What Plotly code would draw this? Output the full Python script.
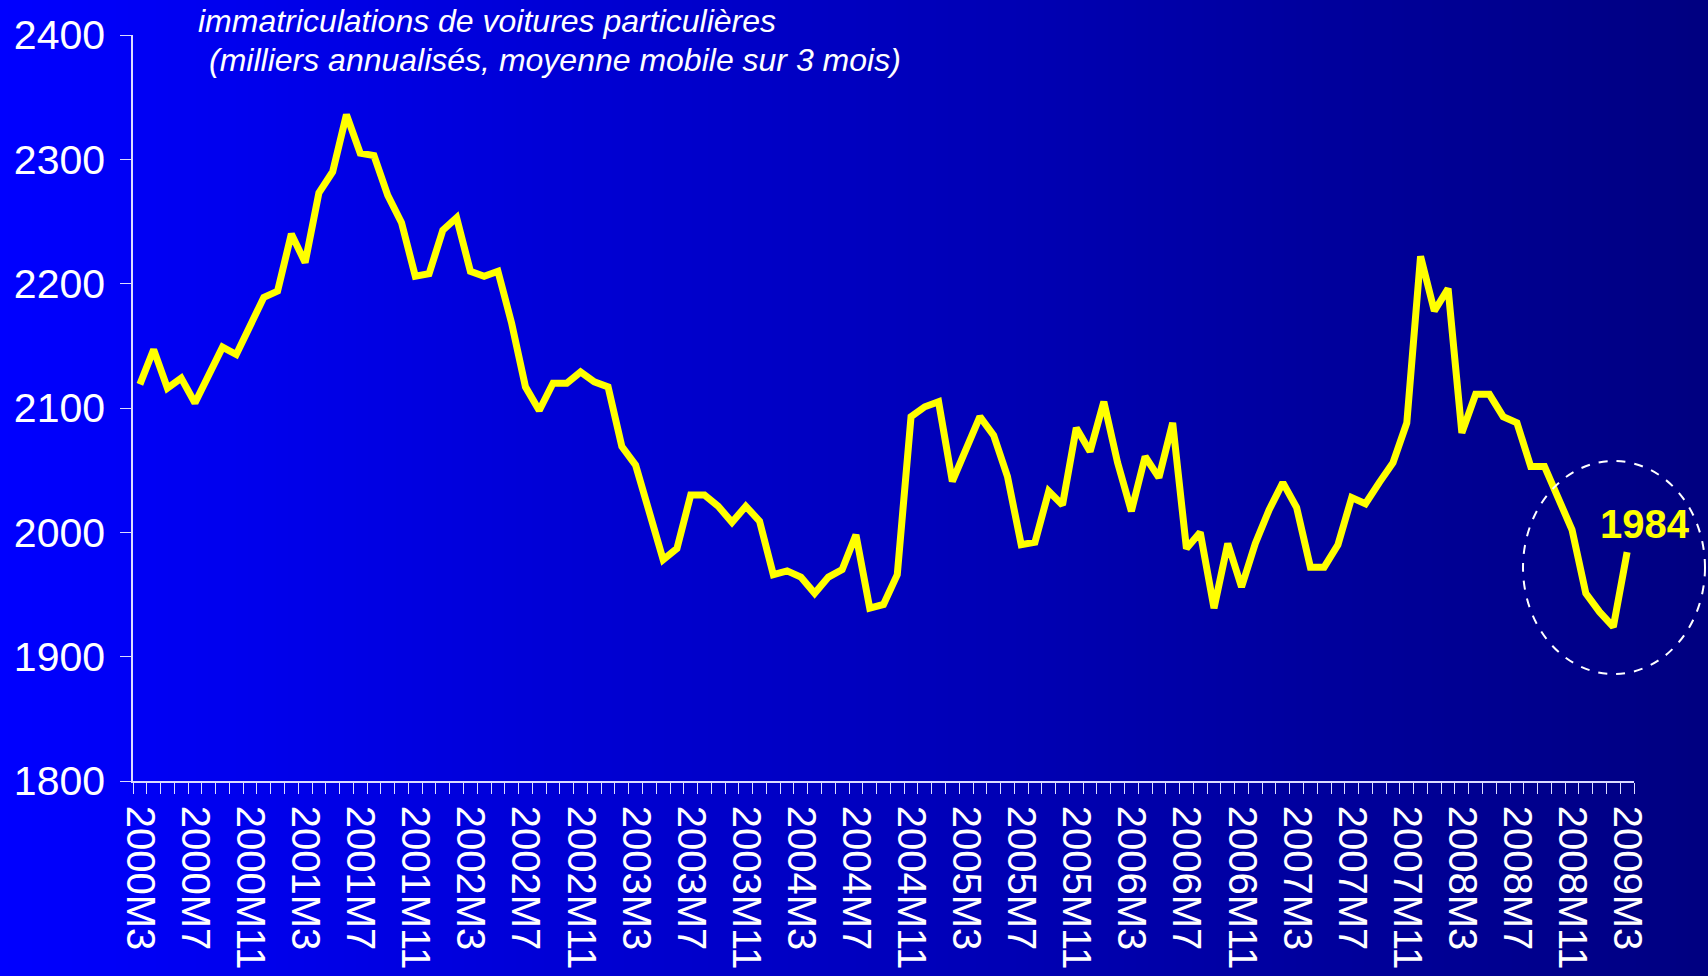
import plotly.graph_objects as go

# ---- data ----
start_year, start_month = 2000, 3
end_year, end_month = 2009, 3
months = [f"{y}M{m}" for y in range(start_year, end_year + 1) for m in range(1, 13)
          if (y, m) >= (start_year, start_month) and (y, m) <= (end_year, end_month)]

immatriculations = [
    2119, 2147, 2116, 2124, 2104, 2127, 2149, 2143, 2167, 2189,
    2194, 2240, 2217, 2273, 2290, 2336, 2305, 2303, 2271, 2249,
    2206, 2208, 2243, 2253, 2210, 2206, 2210, 2168, 2117, 2098,
    2120, 2120, 2129, 2121, 2117, 2069, 2054, 2015, 1978, 1987,
    2030, 2030, 2021, 2008, 2021, 2009, 1966, 1969, 1964, 1951,
    1964, 1970, 1998, 1939, 1942, 1966, 2093, 2101, 2105, 2041,
    2068, 2093, 2078, 2045, 1990, 1992, 2033, 2022, 2084, 2065,
    2105, 2056, 2017, 2061, 2044, 2088, 1987, 2000, 1939, 1991,
    1956, 1991, 2018, 2040, 2020, 1972, 1972, 1990, 2028, 2023,
    2040, 2056, 2088, 2222, 2178, 2196, 2080, 2111, 2111, 2093,
    2088, 2053, 2053, 2026, 2002, 1951, 1936, 1924, 1984,
]
tick_labels = [m if i % 4 == 0 else "" for i, m in enumerate(months)]
y_ticks = [1800, 1900, 2000, 2100, 2200, 2300, 2400]
title_line1 = "immatriculations de voitures particulières"
title_line2 = "(milliers annualisés, moyenne mobile sur 3 mois)"
last_label = "1984"

# ---- layout geometry (pixels) ----
W, H = 1708, 976
L, R, T, B = 133, 74, 35, 195
pw, ph = W - L - R, H - T - B


def px_x(x):
    return (x - L) / pw


def px_y(y):
    return (H - B - y) / ph


FONT = "Liberation Sans, Arial, sans-serif"
AXIS_COL = "#DCDCFF"

fig = go.Figure()
fig.add_trace(go.Scatter(
    x=months, y=immatriculations, mode="lines",
    line=dict(color="#FFFF00", width=7),
    hoverinfo="x+y", showlegend=False,
))

# horizontal gradient background (bright blue -> navy)
shapes = []
step = 4
for xp in range(-12, W + 12, step):
    t = min(max((xp + step / 2) / W, 0), 1)
    b = round(255 + (128 - 255) * t)
    shapes.append(dict(
        type="rect", xref="paper", yref="paper", layer="below",
        x0=px_x(xp), x1=px_x(xp + step + 1), y0=px_y(H + 12), y1=px_y(-12),
        fillcolor=f"rgb(0,0,{b})", line=dict(width=0),
    ))
# dashed ellipse around the last point
shapes.append(dict(
    type="circle", xref="paper", yref="paper", layer="above",
    x0=px_x(1523), x1=px_x(1705), y0=px_y(674), y1=px_y(461),
    line=dict(color="white", width=2, dash="dash"),
))

annotations = [
    dict(text=title_line1, xref="paper", yref="paper", x=px_x(196), y=px_y(21),
         xanchor="left", yanchor="middle", showarrow=False,
         font=dict(family=FONT, size=32, color="white", style="italic")),
    dict(text=title_line2, xref="paper", yref="paper", x=px_x(207), y=px_y(60),
         xanchor="left", yanchor="middle", showarrow=False,
         font=dict(family=FONT, size=32, color="white", style="italic")),
    dict(text=last_label, xref="paper", yref="paper", x=px_x(1645), y=px_y(524),
         xanchor="center", yanchor="middle", showarrow=False,
         font=dict(family=FONT, size=40, color="#FFFF00", weight="bold")),
]

fig.update_layout(
    width=W, height=H,
    margin=dict(l=L, r=R, t=T, b=B, pad=0, autoexpand=False),
    paper_bgcolor="#0000C0", plot_bgcolor="rgba(0,0,0,0)",
    shapes=shapes, annotations=annotations,
    font=dict(family=FONT, color="white"),
    xaxis=dict(
        type="category", tickmode="array", tickvals=months, ticktext=tick_labels,
        tickson="boundaries", ticks="outside", ticklen=11, tickwidth=1, tickcolor=AXIS_COL,
        showline=True, linecolor=AXIS_COL, linewidth=1.5, showgrid=False, zeroline=False,
        tickangle=90, tickfont=dict(family=FONT, size=40, color="white"),
        ticklabelstandoff=15, range=[-0.5, len(months) - 0.5], automargin=False,
    ),
    yaxis=dict(
        range=[1800, 2400], tickmode="array", tickvals=y_ticks,
        ticks="outside", ticklen=11, tickwidth=1, tickcolor=AXIS_COL,
        showline=True, linecolor=AXIS_COL, linewidth=1.5, showgrid=False, zeroline=False,
        tickfont=dict(family=FONT, size=41, color="white"),
        ticklabelstandoff=7, automargin=False,
    ),
)

fig.write_html(
    "out.html",
    config={"displayModeBar": False},
    post_script="document.body.style.margin='0';document.body.style.overflow='hidden';",
)
